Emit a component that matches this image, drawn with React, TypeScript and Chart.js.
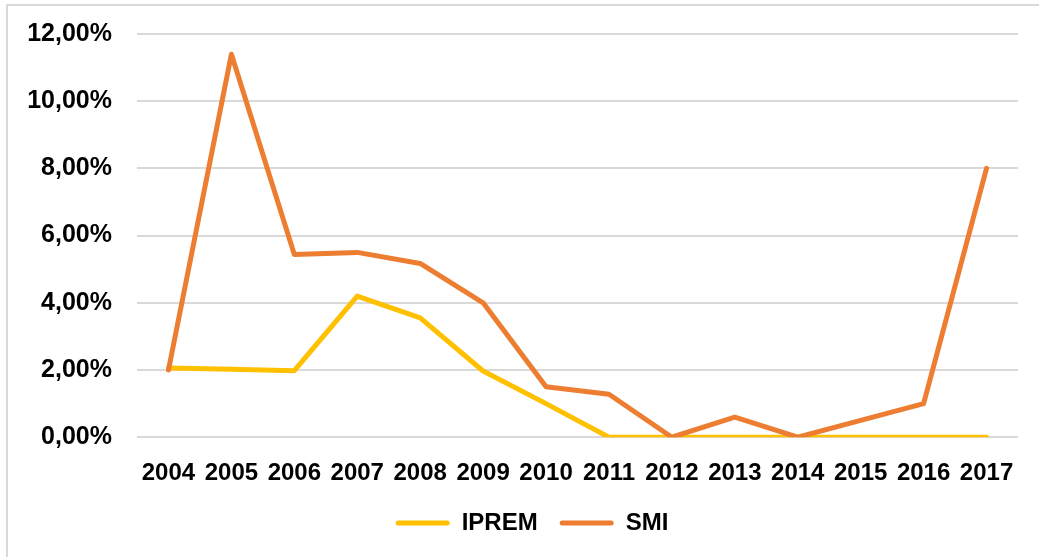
import React, { useEffect, useRef } from "react";
import { Chart, registerables } from "chart.js";

Chart.register(...registerables);

const years = ["2004", "2005", "2006", "2007", "2008", "2009", "2010", "2011", "2012", "2013", "2014", "2015", "2016", "2017"];
const ipremValues = [2.06, 2.02, 1.98, 4.2, 3.55, 1.97, 1.0, 0, 0, 0, 0, 0, 0, 0];
const smiValues = [2.0, 11.4, 5.44, 5.5, 5.17, 4.0, 1.5, 1.28, 0, 0.6, 0, 0.5, 1.0, 8.0];
const seriesNames = ["IPREM", "SMI"];
const seriesColors = ["#FFC000", "#ED7D31"];
const yTicks = [0, 2, 4, 6, 8, 10, 12];

const FONT = "'Liberation Sans', Arial, sans-serif";

const legendShift = {
  id: "legendShift",
  afterUpdate(chart: any) {
    if (chart.legend) {
      chart.legend.left += 46;
    }
  },
};

export default function App() {
  const ref = useRef<HTMLCanvasElement | null>(null);

  useEffect(() => {
    if (!ref.current) return;
    const chart = new Chart(ref.current, {
      type: "line",
      plugins: [legendShift],
      data: {
        labels: years,
        datasets: [
          {
            label: seriesNames[0],
            data: ipremValues,
            borderColor: seriesColors[0],
            backgroundColor: seriesColors[0],
            borderWidth: 5,
            pointRadius: 0,
            pointHoverRadius: 0,
            borderCapStyle: "round",
            borderJoinStyle: "round",
            tension: 0,
            order: 1,
          },
          {
            label: seriesNames[1],
            data: smiValues,
            borderColor: seriesColors[1],
            backgroundColor: seriesColors[1],
            borderWidth: 5,
            pointRadius: 0,
            pointHoverRadius: 0,
            borderCapStyle: "round",
            borderJoinStyle: "round",
            tension: 0,
            order: 0,
          },
        ],
      },
      options: {
        responsive: false,
        animation: false,
        layout: { padding: { left: 0, right: 21, top: 34, bottom: 12 } },
        plugins: {
          tooltip: { enabled: false },
          legend: {
            position: "bottom",
            labels: {
              font: { family: FONT, size: 24, weight: "bold" },
              color: "#000",
              boxWidth: 54,
              boxHeight: 5,
              padding: 22,
              useBorderRadius: true,
              borderRadius: 2.5,
              generateLabels: () =>
                seriesNames.map((n, i) => ({
                  text: n,
                  fillStyle: seriesColors[i],
                  strokeStyle: seriesColors[i],
                  lineWidth: 0,
                  hidden: false,
                  datasetIndex: i,
                  borderRadius: 2.5,
                  fontColor: "#000",
                })),
            },
          },
        },
        scales: {
          x: {
            offset: true,
            grid: { display: false, drawTicks: false },
            border: { display: false },
            afterFit: (s: any) => {
              s.height = s.height - 21;
            },
            ticks: {
              font: { family: FONT, size: 24, weight: "bold" },
              color: "#000",
              padding: 22,
              autoSkip: false,
              maxRotation: 0,
              minRotation: 0,
            },
          },
          y: {
            min: 0,
            max: 12,
            afterFit: (s: any) => {
              s.width = 137;
              s.paddingTop = 0;
              s.paddingBottom = 0;
            },
            afterBuildTicks: (s: any) => {
              s.ticks = yTicks.map((v) => ({ value: v }));
            },
            grid: { color: "#d9d9d9", lineWidth: 2, drawTicks: false },
            border: { display: false },
            ticks: {
              font: { family: FONT, size: 25, weight: "bold" },
              color: "#000",
              padding: 25,
              callback: (v: any) => Number(v).toFixed(2).replace(".", ",") + "%",
            },
          },
        },
      },
    });
    return () => chart.destroy();
  }, []);

  return (
    <div style={{ position: "fixed", left: 0, top: 0, width: 1039, height: 557, overflow: "hidden", background: "#fff" }}>
      <div
        style={{
          position: "absolute",
          left: 6,
          top: 4,
          width: 1100,
          height: 700,
          border: "2px solid #d9d9d9",
        }}
      />
      <canvas ref={ref} width={1039} height={557} style={{ position: "absolute", left: 0, top: 0 }} />
    </div>
  );
}
